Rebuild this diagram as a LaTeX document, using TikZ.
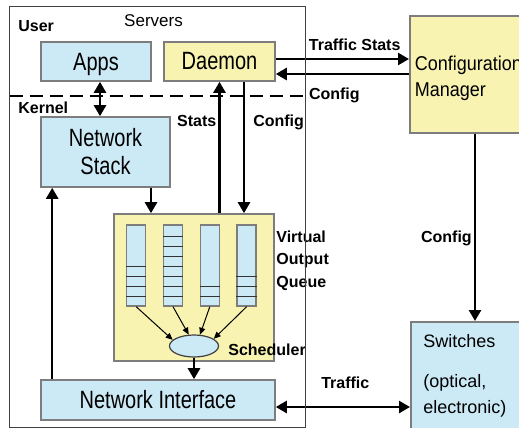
\documentclass[tikz,border=0pt]{standalone}
\usepackage{fontspec}
\setmainfont{Liberation Sans}
\newfontfamily\narrowfont{Liberation Sans}[FakeStretch=0.8]
\newfontfamily\semifont{Liberation Sans}[FakeStretch=0.9]
\usetikzlibrary{arrows.meta,shapes.geometric}
\definecolor{boxblue}{RGB}{204,233,246}
\definecolor{boxyellow}{RGB}{248,243,176}
\definecolor{boxline}{RGB}{125,125,125}
\tikzset{
	box/.style={draw=boxline, line width=0.8pt, inner sep=0pt, align=center},
	bluebox/.style={box, fill=boxblue, font=\narrowfont\fontsize{12.5}{14}\selectfont},
	yellowbox/.style={box, fill=boxyellow, font=\narrowfont\fontsize{12.5}{14}\selectfont},
	queue/.style={draw=boxline, line width=0.7pt, fill=boxblue, minimum width=9.5pt, minimum height=40.5pt, inner sep=0pt},
	slot/.style={draw=black!80, line width=0.5pt},
	lbl/.style={font=\bfseries\fontsize{8}{10}\selectfont, inner sep=2pt},
	flow/.style={line width=1.25pt},
	qarr/.style={line width=0.5pt, -{Triangle[length=3.5pt,width=3pt]}},
	split/.style={line width=1.25pt, dash pattern=on 6.5pt off 3.5pt},
	frame/.style={draw=black!75, line width=0.6pt}
}

\begin{document}
\begin{tikzpicture}[x=0.5pt, y=-0.5pt, >={Triangle[length=5.5pt,width=6pt]}]
	\useasboundingbox (0,0) rectangle (519,428);
	%%%%% SERVER %%%%%
	\node[minimum width=147.5pt, minimum height=210pt, inner sep=0pt] (srv) at (157.5,217) {};
	\node[font=\fontsize{8.5}{10}\selectfont, anchor=base] (srvname) at (153.5,26) {Servers};
	\node[lbl, anchor=base west] (usr) at (14,32) {User};
	\node[lbl, anchor=base west] (krn) at (14,113) {Kernel};
	\coordinate (cut) at (0,96);
	\draw[split] (srv.west |- cut) -- (srv.east |- cut);
	
	\node[bluebox, minimum width=55pt, minimum height=19.5pt, text depth=0pt] (apps) at (96,61.5) {Apps};
	\node[yellowbox, minimum width=55.5pt, minimum height=19.5pt] (dm) at (219.5,61.5) {Daemon};
	\node[bluebox, minimum width=64.5pt, minimum height=35pt] (ns) at (105.5,152) {Network\\Stack};
	\node[yellowbox, minimum width=80pt, minimum height=73.5pt] (voq) at (194,287.5) {};
	\node[bluebox, minimum width=117pt, minimum height=20pt] (ni) at (158,400) {Network Interface};
	
	%%%%% QUEUES %%%%%
	\node[ellipse, draw=black!75, line width=0.6pt, fill=boxblue, minimum width=24.5pt, minimum height=11pt, inner sep=0pt] (sch) at (194,346) {};
	\foreach \i/\n/\a in {1/4/164, 2/7/115, 3/2/62, 4/3/20}{
		\node[queue] (q\i) at ({136.2+36.8*(\i-1)},265.5) {};
		\foreach \k in {1,...,\n}
			\draw[slot] ([yshift={\k*5pt}]q\i.south west) -- ([yshift={\k*5pt}]q\i.south east);
		\draw[qarr] (q\i.south) -- (sch.\a);
	}
	\node[lbl, anchor=north west, align=left, font=\bfseries\fontsize{8}{11.25}\selectfont] (voqname) at (272,226.3) {Virtual\\Output\\Queue};
	\node[lbl, anchor=base west] (schname) at (224,355) {Scheduler};
	
	%%%%% OUTSIDE %%%%%
	\node[box, fill=boxyellow, anchor=north west, inner xsep=2.5pt, font=\semifont\fontsize{10}{13}\selectfont] (cm) at (409,15) {\parbox[c][58.5pt][t]{65pt}{\vspace*{20.2pt}Configuration\\Manager}};
	\node[box, fill=boxblue, anchor=north west, inner sep=6.25pt, font=\fontsize{9}{13}\selectfont] (sw) at (410,321) {\parbox[c][50pt][t]{55pt}{Switches\\[7pt](optical,\\electronic)}};
	
	%%%%% ARROWS %%%%%
	\draw[flow, <->] ([xshift=2pt]apps.south) -- ([xshift=2pt]apps.south |- ns.north);
	\draw[flow, ->] ([xshift=22.75pt]ns.south) -- ([xshift=22.75pt]ns.south |- voq.north);
	\draw[flow, ->] ([xshift=6pt]ni.north west) -- ([xshift=6pt]ni.north west |- ns.south);
	\draw[flow, ->] (dm.south |- voq.north) -- node[lbl, pos=0.662, anchor=base east, xshift=1pt] {Stats} (dm.south);
	\draw[flow, ->] ([xshift=12.25pt]dm.south) -- node[lbl, pos=0.338, anchor=base west, xshift=2pt] {Config} ([xshift=12.25pt]dm.south |- voq.north);
	\draw[flow, ->] (sch.south) -- (sch.south |- ni.north);
	
	\draw[flow, ->] ([yshift=1.25pt]dm.east) -- node[lbl, pos=0.209, anchor=base west, yshift=4.5pt] {Traffic Stats} ([yshift=1.25pt]dm.east -| cm.west);
	\draw[flow, ->] ([yshift=-6.25pt]dm.east -| cm.west) -- node[lbl, pos=0.79, anchor=base west, yshift=-12.5pt] {Config} ([yshift=-6.25pt]dm.east);
	\draw[flow, ->] ([xshift=33pt]cm.south west) -- node[lbl, pos=0.582, anchor=base east, xshift=1pt] {Config} ([xshift=33pt]cm.south west |- sw.north);
	\draw[flow, <->] ([yshift=-3.5pt]ni.east) -- node[lbl, pos=0.30, anchor=base west, yshift=9.5pt] {Traffic} ([yshift=-3.5pt]ni.east -| sw.west);
	
	\draw[frame] (srv.north west) rectangle (srv.south east);
	%%%%% END %%%%%
\end{tikzpicture}
\end{document}
